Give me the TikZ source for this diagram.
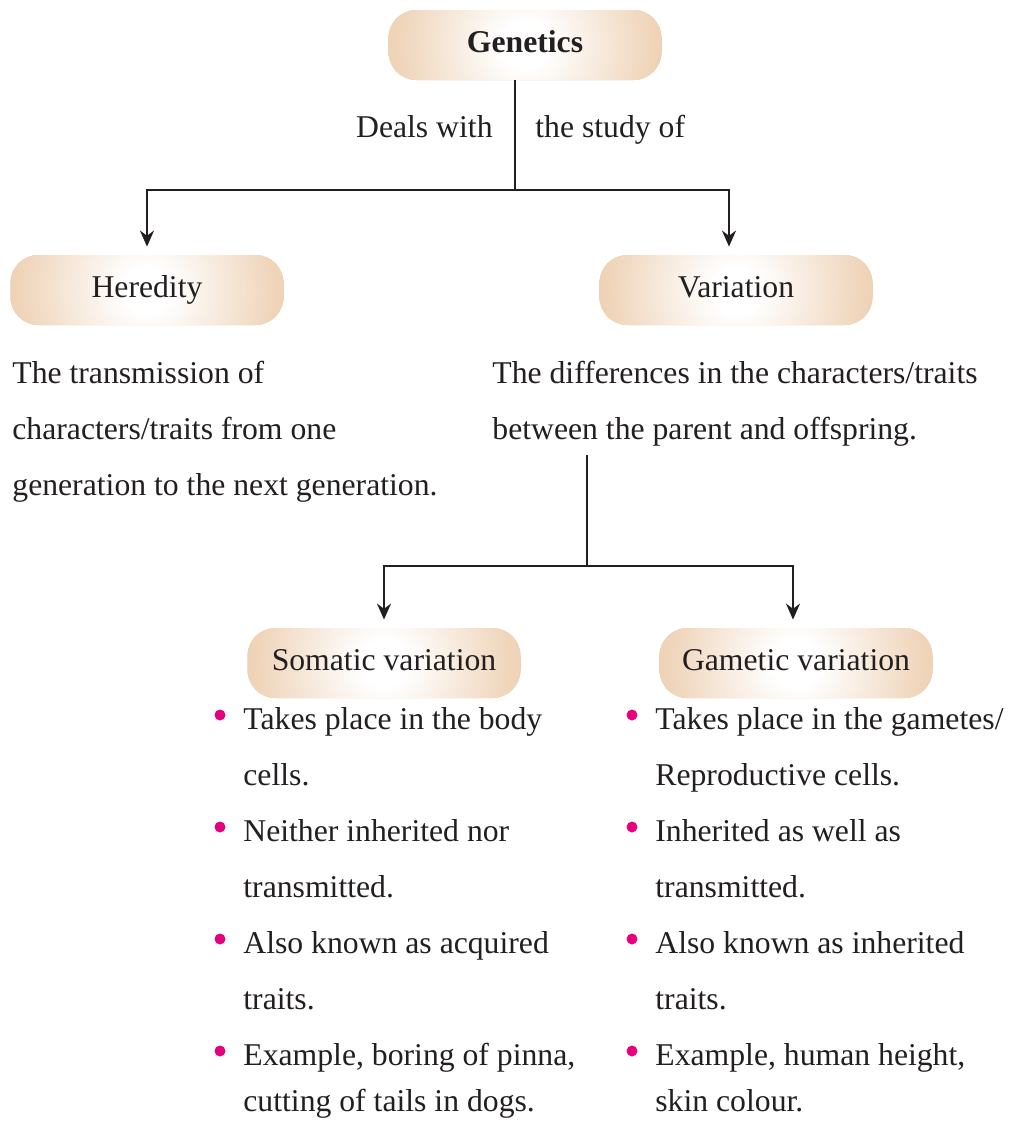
\documentclass[tikz,border=0pt]{standalone}
\usepackage{fontspec}
\setmainfont{Liberation Serif}
\usetikzlibrary{arrows.meta,positioning,calc}
\definecolor{ink}{RGB}{35,31,32}
\definecolor{tanbox}{RGB}{228,182,136}
\definecolor{dotpink}{RGB}{230,0,126}
\pgfdeclareradialshading{pillshade}{\pgfpoint{0bp}{0bp}}{color(0bp)=(white); color(4bp)=(white); color(22bp)=(tanbox!58!white); color(45bp)=(tanbox); color(60bp)=(tanbox)}

\begin{document}
\begin{tikzpicture}[x=0.5pt, y=-0.5pt,
  pill/.style={rounded corners=14pt, minimum width=136.5pt, minimum height=35pt, inner sep=0pt, fill=tanbox, text=ink,
    text height=10.9pt, text depth=3pt,
    font=\fontsize{15.85}{19}\selectfont,
    path picture={\shade[shading=pillshade] (path picture bounding box.center) circle (72pt);}},
  txt/.style={align=left, inner sep=0pt, anchor=north west, text=ink, font=\fontsize{15.85}{28}\selectfont},
  lbl/.style={inner sep=0pt, text=ink, font=\fontsize{15.85}{19}\selectfont},
  dot/.style={circle, fill=dotpink, inner sep=0pt, minimum size=5.5pt},
  link/.style={draw=ink, line width=1pt},
  >={Stealth[length=8pt,width=7pt]}]
\useasboundingbox (0,0) rectangle (1010,1121);
% boxes
\node[pill, font=\fontsize{15.85}{19}\selectfont\bfseries] (genetics) at (525,45) {Genetics};
\node[pill] (heredity) at (147,290) {Heredity};
\node[pill] (variation) at (736,290) {Variation};
\node[pill] (somatic) at (384,663) {Somatic variation};
\node[pill] (gametic) at (796,663) {Gametic variation};
% descriptions
\node[lbl, anchor=base east] (deals) at (493,137) {Deals with};
\node[lbl, anchor=base west] (study) at (535,137) {the study of};
\node[txt] (hertext) at (12,361) {The transmission of\\characters/traits from one\\generation to the next generation.};
\node[txt] (vartext) at (492,361) {The differences in the characters/traits\\between the parent and offspring.};
% somatic points
\node[txt] (s1) at (243,707) {Takes place in the body\\cells.};
\node[txt] (s2) at (243,819) {Neither inherited nor\\transmitted.};
\node[txt] (s3) at (243,931) {Also known as acquired\\traits.};
\node[txt, font=\fontsize{15.85}{23}\selectfont] (s4) at (243,1043) {Example, boring of pinna,\\cutting of tails in dogs.};
% gametic points
\node[txt] (g1) at (655,707) {Takes place in the gametes/\\Reproductive cells.};
\node[txt] (g2) at (655,819) {Inherited as well as\\transmitted.};
\node[txt] (g3) at (655,931) {Also known as inherited\\traits.};
\node[txt, font=\fontsize{15.85}{23}\selectfont] (g4) at (655,1043) {Example, human height,\\skin colour.};
\foreach \n in {s1,s2,s3,s4,g1,g2,g3,g4}
  \node[dot] (\n dot) at ($(\n.north west)+(-23,8)$) {};
% connectors
\coordinate (split) at (515,190);
\coordinate (split2) at (587,566);
\draw[link] (genetics.south -| split) -- (split);
\draw[link,->,shorten >=4pt] (split) -| (heredity.north);
\draw[link,->,shorten >=4pt] (split) -| ($(variation.north)+(-7,0)$);
\draw[link,shorten <=4pt] (vartext.south -| split2) -- (split2);
\draw[link,->,shorten >=4pt] (split2) -| (somatic.north);
\draw[link,->,shorten >=4pt] (split2) -| ($(gametic.north)+(-3,0)$);
\end{tikzpicture}
\end{document}
